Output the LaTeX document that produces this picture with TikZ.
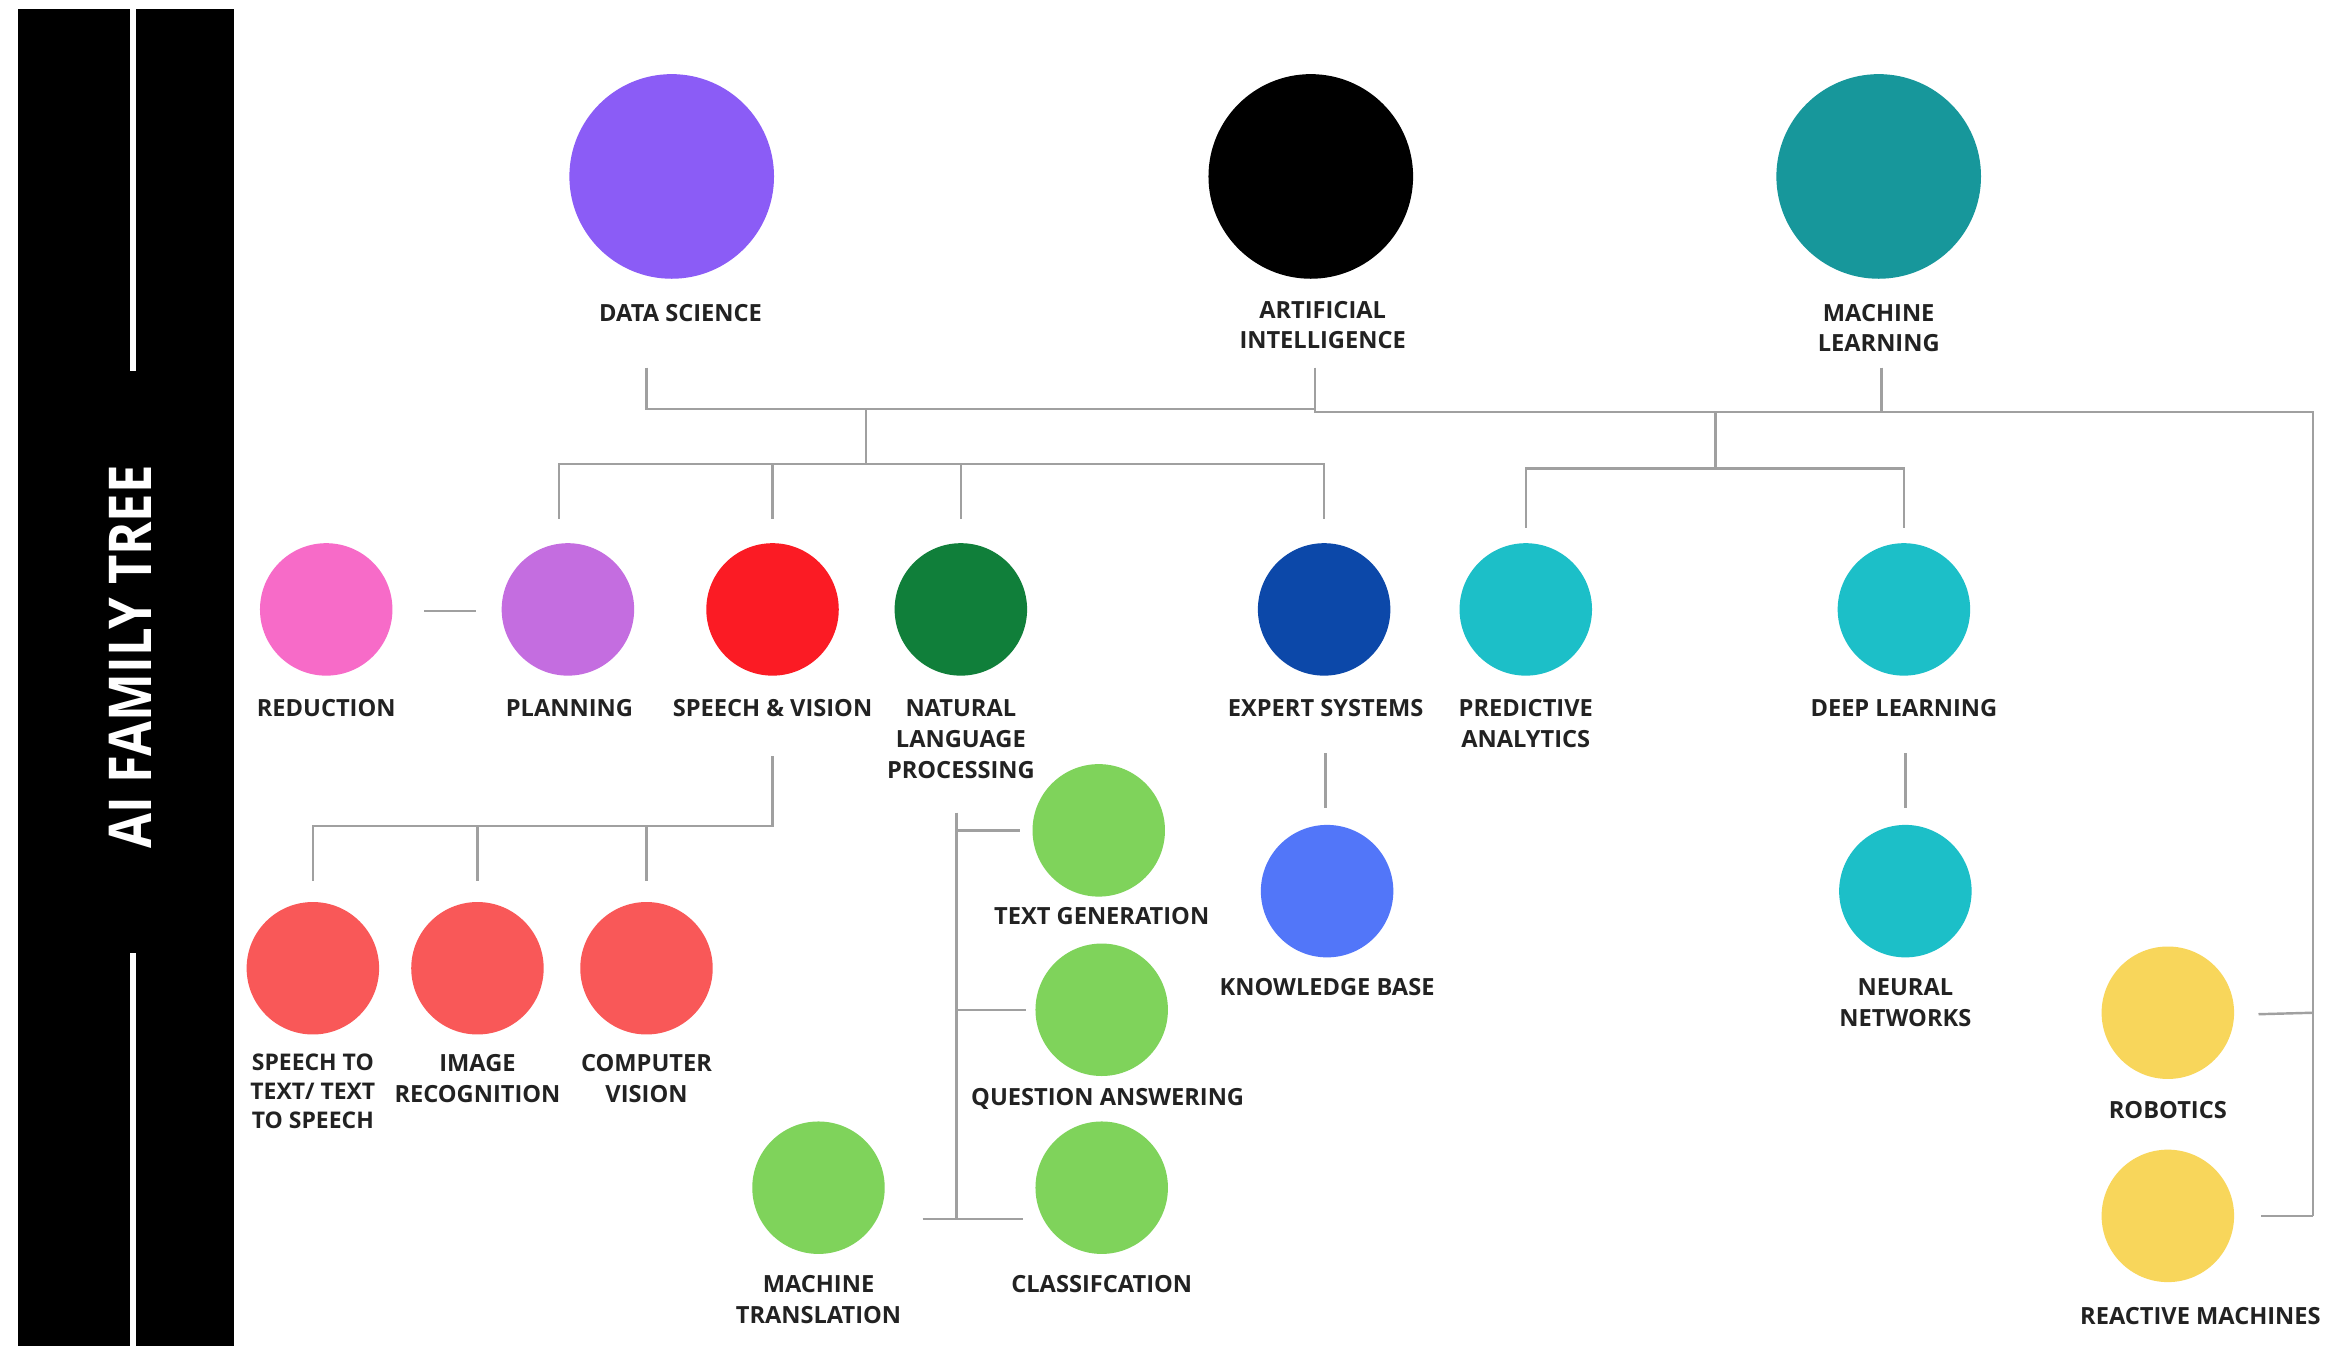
\documentclass[tikz,border=0pt]{standalone}
\usepackage{fontspec}
\setmainfont{Open Sans}
\newfontfamily\lblfont{Open Sans}
\newfontfamily\ttlfont[FakeStretch=0.86]{Open Sans}
\usetikzlibrary{calc}
\definecolor{lineC}{HTML}{A0A0A0}
\definecolor{txtC}{HTML}{222222}
\definecolor{cDS}{HTML}{8B5CF6}
\definecolor{cML}{HTML}{17979B}
\definecolor{cRed}{HTML}{F76BC8}
\definecolor{cPlan}{HTML}{C46DE0}
\definecolor{cSV}{HTML}{FB1B24}
\definecolor{cNLP}{HTML}{107F3A}
\definecolor{cES}{HTML}{0C48A9}
\definecolor{cTeal}{HTML}{1CBFC8}
\definecolor{cKB}{HTML}{5276F9}
\definecolor{cRed3}{HTML}{F95858}
\definecolor{cGreen}{HTML}{7FD35B}
\definecolor{cYel}{HTML}{F8D65B}
\begin{document}
\begin{tikzpicture}[x=0.015cm,y=-0.015cm,
  conn/.style={draw=lineC, line width=0.7pt},
  big/.style={circle, minimum size=2.07cm, inner sep=0pt},
  small/.style={circle, minimum size=1.34cm, inner sep=0pt},
  lbl/.style={anchor=north, inner sep=0pt, align=center, text=txtC, font=\lblfont\bfseries\fontsize{6.8}{8.9}\selectfont},
]
\useasboundingbox[fill=white] (0,0) rectangle (1568,914);

% side bar
\fill[black] (12,6) rectangle (158,908);
\fill[white] (88,6) rectangle (92,250);
\fill[white] (88,643) rectangle (92,908);
\node[rotate=90, text=white, inner sep=0pt, font=\ttlfont\bfseries\fontsize{17}{20}\selectfont] (title) at (88,443) {AI FAMILY TREE};

% top circles
\node[big, fill=cDS] (ds) at (453,119) {};
\node[big, fill=black] (ai) at (884,119) {};
\node[big, fill=cML] (ml) at (1267,119) {};
\node[lbl] (dsl) at (459,204.5) {DATA SCIENCE};
\node[lbl] (ail) at (892,202.5) {ARTIFICIAL\\INTELLIGENCE};
\node[lbl] (mll) at (1267,204.5) {MACHINE\\LEARNING};

% row 2
\node[small, fill=cRed] (red) at (220,411) {};
\node[small, fill=cPlan] (plan) at (383,411) {};
\node[small, fill=cSV] (sv) at (521,411) {};
\node[small, fill=cNLP] (nlp) at (648,411) {};
\node[small, fill=cES] (es) at (893,411) {};
\node[small, fill=cTeal] (pa) at (1029,411) {};
\node[small, fill=cTeal] (dl) at (1284,411) {};
\node[lbl] (redl) at (220,471.5) {REDUCTION};
\node[lbl] (planl) at (384,471.5) {PLANNING};
\node[lbl] (svl) at (521,471.5) {SPEECH \& VISION};
\node[lbl] (nlpl) at (648,471.5) {NATURAL\\LANGUAGE\\PROCESSING};
\node[lbl] (esl) at (894,471.5) {EXPERT SYSTEMS};
\node[lbl] (pal) at (1029,471.5) {PREDICTIVE\\ANALYTICS};
\node[lbl] (dll) at (1284,471.5) {DEEP LEARNING};

% row 3 (speech & vision children)
\node[small, fill=cRed3] (stt) at (211,653) {};
\node[small, fill=cRed3] (ir) at (322,653) {};
\node[small, fill=cRed3] (cv) at (436,653) {};
\node[lbl, font=\lblfont\bfseries\fontsize{6.6}{8.3}\selectfont] (sttl) at (211,710.5) {SPEECH TO\\TEXT/ TEXT\\TO SPEECH};
\node[lbl] (irl) at (322,710.5) {IMAGE\\RECOGNITION};
\node[lbl] (cvl) at (436,710.5) {COMPUTER\\VISION};

% NLP children
\node[small, fill=cGreen] (tg) at (741,560) {};
\node[small, fill=cGreen] (qa) at (743,681) {};
\node[small, fill=cGreen] (cl) at (743,801) {};
\node[small, fill=cGreen] (mt) at (552,801) {};
\node[lbl] (tgl) at (743,611.5) {TEXT GENERATION};
\node[lbl] (qal) at (747,733.5) {QUESTION ANSWERING};
\node[lbl] (cll) at (743,859.5) {CLASSIFCATION};
\node[lbl] (mtl) at (552,859.5) {MACHINE\\TRANSLATION};

% expert systems / deep learning children
\node[small, fill=cKB] (kb) at (895,601) {};
\node[small, fill=cTeal] (nn) at (1285,601) {};
\node[lbl] (kbl) at (895,659.5) {KNOWLEDGE BASE};
\node[lbl] (nnl) at (1285,659.5) {NEURAL\\NETWORKS};

% right column
\node[small, fill=cYel] (rob) at (1462,683) {};
\node[small, fill=cYel] (rm) at (1462,820) {};
\node[lbl] (robl) at (1462,742.5) {ROBOTICS};
\node[lbl] (rml) at (1484,881.5) {REACTIVE MACHINES};

% junction coordinates
\coordinate (dsDrop) at (436,248);
\coordinate (aiDrop) at (887,248);
\coordinate (mlDrop) at (1269,248);
\coordinate (barA) at (887,276);
\coordinate (jA) at (584,276);
\coordinate (barB) at (0,313);
\coordinate (rowTop) at (0,350);
\coordinate (planDrop) at (377,350);
\coordinate (barR) at (1560,278);
\coordinate (jB) at (1157,278);
\coordinate (barC) at (0,316);
\coordinate (rowTopR) at (0,356);
\coordinate (rEnd) at (1560,820);

% connectors: top level
\draw[conn] (dsDrop) |- (barA);
\draw[conn] (aiDrop) |- (barR) -- (rEnd);
\draw[conn] (mlDrop) -- (mlDrop |- barR);
% data science / AI branch
\draw[conn] (jA) -- (jA |- barB);
\draw[conn] (planDrop) |- (es.north |- barB) -- (es.north |- rowTop);
\draw[conn] (sv.north |- barB) -- (sv.north |- rowTop);
\draw[conn] (nlp.north |- barB) -- (nlp.north |- rowTop);
% ML branch
\draw[conn] (jB) -- (jB |- barC);
\draw[conn] (pa.north |- rowTopR) |- (dl.north |- barC) -- (dl.north |- rowTopR);
% reduction - planning
\draw[conn] ($(red.east)+(21,1)$) -- ($(plan.west)+(-17,1)$);
% speech & vision children
\coordinate (svDrop) at (521,510);
\coordinate (svBar) at (0,557);
\coordinate (svEnd) at (0,594);
\draw[conn] (svDrop) |- (stt.north |- svBar) -- (stt.north |- svEnd);
\draw[conn] (ir.north |- svBar) -- (ir.north |- svEnd);
\draw[conn] (cv.north |- svBar) -- (cv.north |- svEnd);
% NLP children
\coordinate (nlpTop) at (645,548);
\coordinate (nlpBot) at (645,822);
\draw[conn] (nlpTop) -- (nlpBot);
\draw[conn] (nlpTop |- tg.west) -- ($(tg.west)+(-8,0)$);
\draw[conn] (nlpTop |- qa.west) -- ($(qa.west)+(-6,0)$);
\draw[conn] ($(mt.east)+(25,21)$) -- ($(cl.west)+(-8,21)$);
% expert systems / deep learning
\coordinate (esDrop) at (894,508);
\coordinate (dlDrop) at (1285,508);
\coordinate (subEnd) at (0,545);
\draw[conn] (esDrop) -- (esDrop |- subEnd);
\draw[conn] (dlDrop) -- (dlDrop |- subEnd);
% right column stubs
\draw[conn] ($(rob.east)+(16,1)$) -- (rEnd |- rob.east);
\draw[conn] ($(rm.east)+(18,0)$) -- (rEnd);
\end{tikzpicture}
\end{document}
